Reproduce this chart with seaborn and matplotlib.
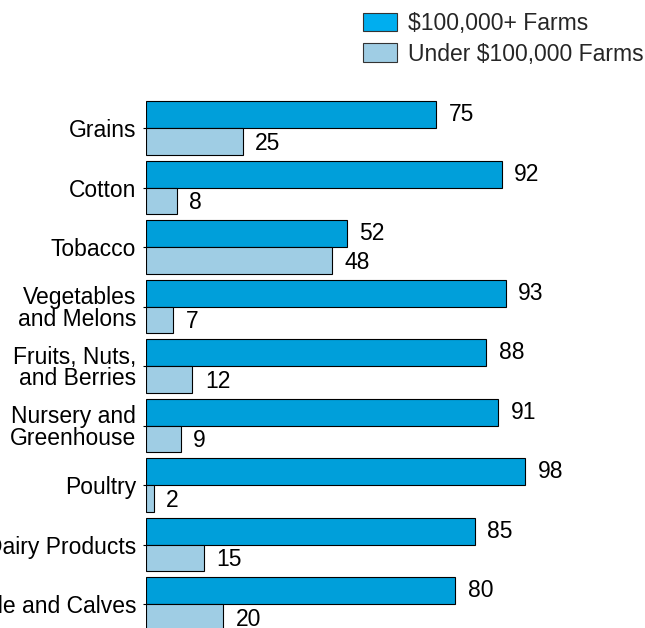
import matplotlib
matplotlib.use("Agg")
import matplotlib.pyplot as plt
import seaborn as sns
import pandas as pd

categories = ["Grains", "Cotton", "Tobacco", "Vegetables\nand Melons",
              "Fruits, Nuts,\nand Berries", "Nursery and\nGreenhouse",
              "Poultry", "Dairy Products", "Cattle and Calves"]
large_farms = [75, 92, 52, 93, 88, 91, 98, 85, 80]
small_farms = [25, 8, 48, 7, 12, 9, 2, 15, 20]
series_names = ["$100,000+ Farms", "Under $100,000 Farms"]
colors = ["#009FDA", "#9FCDE4"]
legend_colors = ["#00AEEF", "#9FCDE4"]

df = pd.DataFrame({
    "category": categories * 2,
    "value": large_farms + small_farms,
    "series": [series_names[0]] * len(categories) + [series_names[1]] * len(categories),
})

sns.set_theme(style="white")
plt.rcParams["font.family"] = ["Liberation Sans", "DejaVu Sans"]
FS = 16.5

fig = plt.figure(figsize=(6.45, 6.28), dpi=100)
ax = fig.add_axes([146 / 645, -0.00916, 386.7 / 645, 535.5 / 628])

sns.barplot(data=df, y="category", x="value", hue="series", orient="h",
            palette=colors, saturation=1, width=0.9, gap=0, edgecolor="black",
            linewidth=0.8, ax=ax, legend=True)

ax.set_xlim(0, 100)
ax.set_ylim(8.5, -0.5)
for s in ax.spines.values():
    s.set_visible(False)
ax.set_xlabel("")
ax.set_ylabel("")
ax.set_xticks([])
ax.tick_params(axis="y", left=True, length=2.2, width=0.8, color="black",
               pad=5, labelsize=FS, labelcolor="black")
for lab in ax.get_yticklabels():
    lab.set_linespacing(0.93)

for i, cont in enumerate(ax.containers):
    anns = ax.bar_label(cont, padding=9, fontsize=FS, color="black")
    if i == 1:
        for a in anns:
            a.xyann = (9, -1.2)

handles, labels = ax.get_legend_handles_labels()
ax.get_legend().remove()
leg = fig.legend(handles, labels, loc="upper left",
                 bbox_to_anchor=(363 / 645, 1 - 12 / 628),
                 frameon=False, fontsize=FS, handlelength=1.48, handleheight=0.88,
                 handletextpad=0.48, labelspacing=0.33, borderpad=0, borderaxespad=0)
for h, c in zip(leg.legend_handles, legend_colors):
    h.set_facecolor(c)
    h.set_edgecolor("#333333")

fig.savefig("out.png", dpi=100)
